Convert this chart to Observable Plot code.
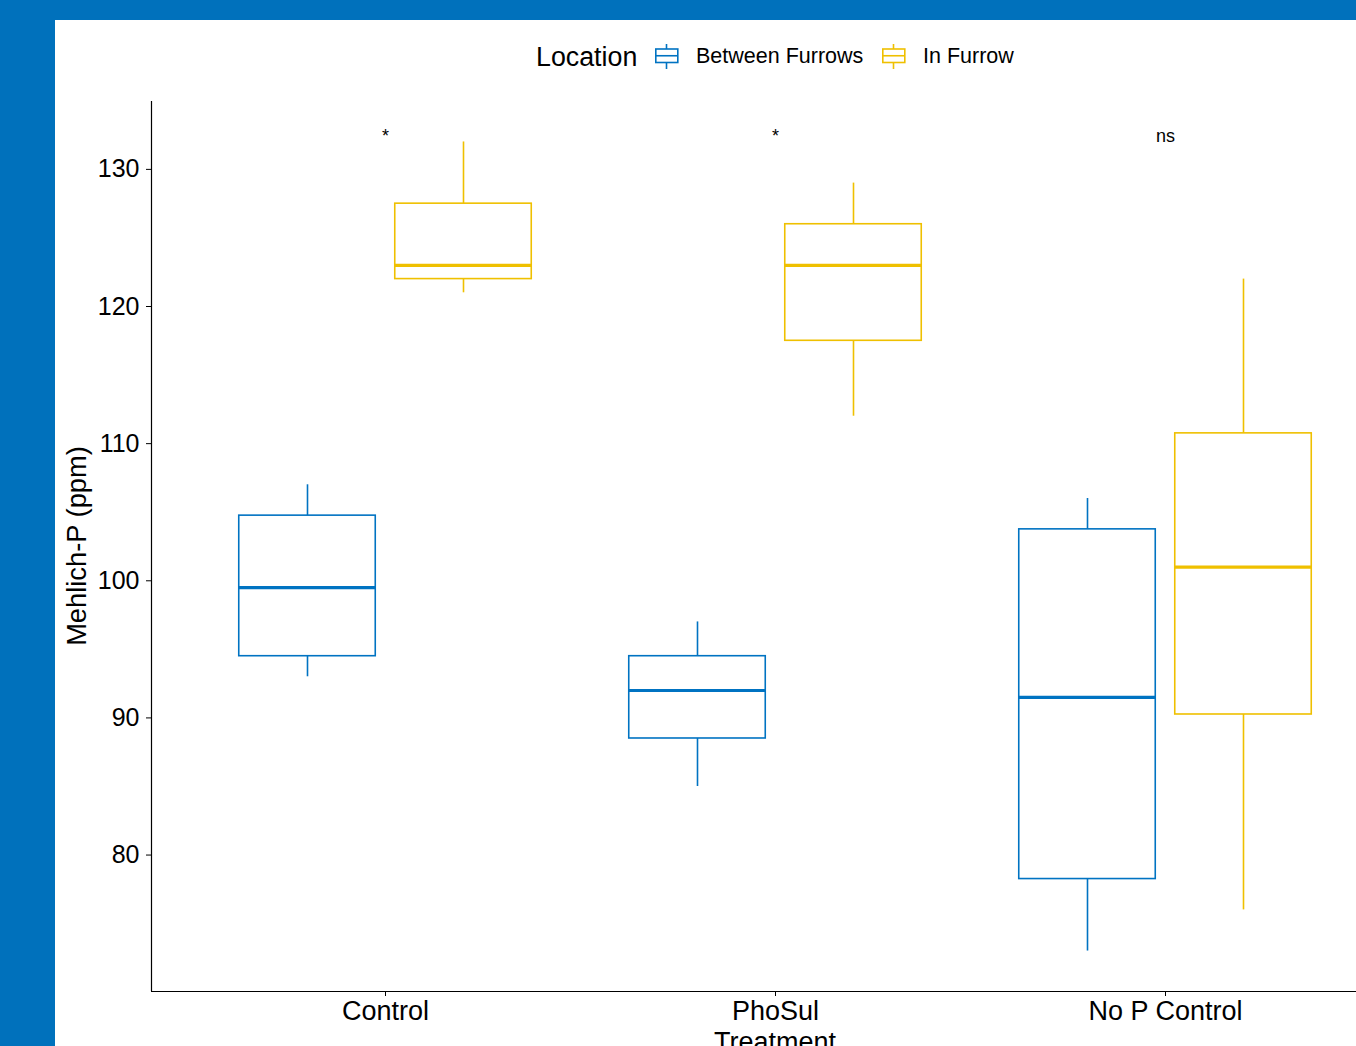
<!DOCTYPE html>
<html>
<head>
<meta charset="utf-8">
<script src="https://cdn.jsdelivr.net/npm/d3@7"></script>
<script src="https://cdn.jsdelivr.net/npm/@observablehq/plot@0.6"></script>
<style>
  html, body { margin: 0; padding: 0; width: 1356px; height: 1046px; overflow: hidden; background: #0071BC; }
  #panel { position: absolute; left: 55px; top: 20px; width: 1400px; height: 1100px; background: #fff; }
  .t { position: absolute; font-family: "Liberation Sans", Arial, sans-serif; color: #000; white-space: nowrap; line-height: 1; }
  #chart { position: absolute; left: 55px; top: 90px; width: 1344px; height: 956px; }
  #chart svg { max-width: none !important; width: 1344px; height: 956px; }
  svg.key { position: absolute; }
</style>
</head>
<body>
<div id="panel"></div>
<div id="chart"></div>
<div class="t" style="left:536px; top:43.5px; font-size:26.8px;">Location</div>
<svg class="key" style="left:655px; top:43.5px;" width="24" height="25">
  <line x1="11.5" y1="0" x2="11.5" y2="25" stroke="#0073C2" stroke-width="1.6"/>
  <rect x="0.8" y="5" width="22" height="13.5" fill="#fff" stroke="#0073C2" stroke-width="1.6"/>
  <line x1="0.8" y1="11.75" x2="22.8" y2="11.75" stroke="#0073C2" stroke-width="1.6"/>
</svg>
<div class="t" style="left:696px; top:46.3px; font-size:21.5px;">Between Furrows</div>
<svg class="key" style="left:882px; top:43.5px;" width="24" height="25">
  <line x1="11.5" y1="0" x2="11.5" y2="25" stroke="#EFC000" stroke-width="1.6"/>
  <rect x="0.8" y="5" width="22" height="13.5" fill="#fff" stroke="#EFC000" stroke-width="1.6"/>
  <line x1="0.8" y1="11.75" x2="22.8" y2="11.75" stroke="#EFC000" stroke-width="1.6"/>
</svg>
<div class="t" style="left:923px; top:46.3px; font-size:21.5px;">In Furrow</div>
<div class="t" style="left:77px; top:546px; font-size:27.3px; transform: translate(-50%,-50%) rotate(-90deg);">Mehlich-P (ppm)</div>
<div class="t" style="left:775px; top:1029px; font-size:27px; transform: translateX(-50%);">Treatment</div>
<script>
// ---- data ----
const treatments = ["Control", "PhoSul", "No P Control"];
const locations = ["Between Furrows", "In Furrow"];
const colors = ["#0073C2", "#EFC000"];
// order: Control-BF, Control-IF, PhoSul-BF, PhoSul-IF, NoP-BF, NoP-IF
const groupTreatment = ["Control", "Control", "PhoSul", "PhoSul", "No P Control", "No P Control"];
const groupLocation = ["Between Furrows", "In Furrow", "Between Furrows", "In Furrow", "Between Furrows", "In Furrow"];
const lowWhisker = [93, 121, 85, 112, 73, 76];
const q1Values = [94.5, 122, 88.5, 117.5, 78.25, 90.25];
const medianValues = [99.5, 123, 92, 123, 91.5, 101];
const q3Values = [104.75, 127.5, 94.5, 126, 103.75, 110.75];
const highWhisker = [107, 132, 97, 129, 106, 122];
const sigLabels = ["*", "*", "ns"];
const sigY = 132;
const yTicks = [80, 90, 100, 110, 120, 130];

// ---- build table (dodged positions like ggplot position_dodge) ----
const dodge = 0.2, half = 0.175;
const boxes = groupTreatment.map((t, i) => {
  const c = treatments.indexOf(t) + 1 + (locations.indexOf(groupLocation[i]) === 0 ? -dodge : dodge);
  return {treatment: t, location: groupLocation[i], c, x1: c - half, x2: c + half,
          lo: lowWhisker[i], q1: q1Values[i], med: medianValues[i], q3: q3Values[i], hi: highWhisker[i]};
});
const sig = treatments.map((t, i) => ({pos: i + 1, label: sigLabels[i]}));

const yMin = 73 - 0.05 * (132 - 73), yMax = 132 + 0.05 * (132 - 73);

const chart = Plot.plot({
  width: 1344, height: 956,
  marginLeft: 96, marginRight: 0, marginTop: 11, marginBottom: 55,
  x: {domain: [0.4, 3.6]},
  y: {domain: [yMin, yMax]},
  color: {domain: locations, range: colors},
  style: {fontFamily: "Liberation Sans, Arial, sans-serif", background: "transparent", color: "#000", overflow: "visible"},
  marks: [
    Plot.ruleX(boxes, {x: "c", y1: "lo", y2: "q1", stroke: "location", strokeWidth: 1.6}),
    Plot.ruleX(boxes, {x: "c", y1: "q3", y2: "hi", stroke: "location", strokeWidth: 1.6}),
    Plot.rect(boxes, {x1: "x1", x2: "x2", y1: "q1", y2: "q3", fill: "white", stroke: "location", strokeWidth: 1.6}),
    Plot.ruleY(boxes, {x1: "x1", x2: "x2", y: "med", stroke: "location", strokeWidth: 3.2}),
    Plot.text(sig, {x: "pos", y: sigY, text: "label", lineAnchor: "bottom", fontSize: 18, fill: "#000"}),
    Plot.ruleX([yMin], {x: 0.4, y1: yMin, y2: yMax, stroke: "#000", strokeWidth: 1.2}),
    Plot.ruleY([yMin], {y: yMin, stroke: "#000", strokeWidth: 1.2}),
    Plot.axisX([1, 2, 3], {tickFormat: d => treatments[d - 1], tickSize: 5, tickPadding: 4, fontSize: 27, label: null, stroke: "#000", fill: "#000"}),
    Plot.axisY(yTicks, {tickSize: 5, tickPadding: 7, fontSize: 25, label: null, stroke: "#000", fill: "#000"})
  ]
});
document.getElementById("chart").appendChild(chart);
</script>
</body>
</html>
